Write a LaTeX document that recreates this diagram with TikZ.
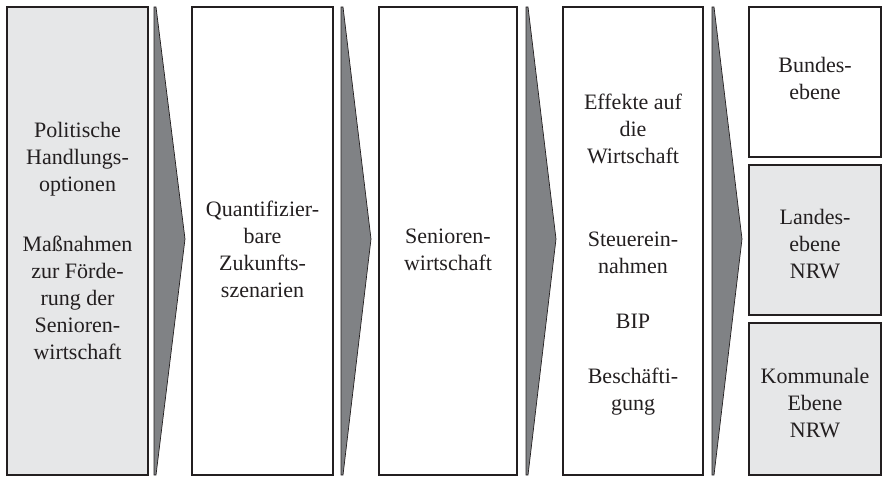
\documentclass[tikz,border=0pt]{standalone}
\usepackage{fontspec}
\setmainfont{Liberation Serif}
\definecolor{boxgray}{RGB}{230,231,232}
\definecolor{arrowgray}{RGB}{128,130,133}
\definecolor{linecol}{RGB}{35,31,32}
\tikzset{
  box/.style={draw=linecol, line width=1.8pt, inner sep=0pt},
  txt/.style={align=center, inner sep=0pt, font=\fontsize{22}{27}\selectfont, text=linecol},
  arr/.style={draw=linecol, line width=0.7pt, fill=arrowgray, line join=miter}
}
\begin{document}
\begin{tikzpicture}[x=1pt, y=-1pt]
\useasboundingbox (0,0) rectangle (882,476);

% boxes
\node[box, fill=boxgray, minimum width=141pt, minimum height=468pt] (politik) at (77.5,241) {};
\node[box, minimum width=141pt, minimum height=468pt] (szenarien) at (262.5,241) {};
\node[box, minimum width=138pt, minimum height=468pt] (senioren) at (448,241) {};
\node[box, minimum width=140pt, minimum height=468pt] (effekte) at (633,241) {};
\node[box, minimum width=132pt, minimum height=150pt] (bund) at (815,82) {};
\node[box, fill=boxgray, minimum width=132pt, minimum height=150pt] (land) at (815,240) {};
\node[box, fill=boxgray, minimum width=132pt, minimum height=152pt] (kommune) at (815,399) {};

% arrows
\foreach \a/\t in {154/185, 341/371, 526/556, 712/742}
{
    \draw[arr] (\a,7) -- (\a+2,7) -- (\t,239) -- (\a+2,475) -- (\a,475) -- cycle;
}

% texts
\node[txt] (politik-t) at (politik.center) {Politische\\Handlungs-\\optionen\\[33pt]Maßnahmen\\zur Förde-\\rung der\\Senioren-\\wirtschaft};
\node[txt] (szenarien-t) at (262.5,249.5) {Quantifizier-\\bare\\Zukunfts-\\szenarien};
\node[txt] (senioren-t) at (448,250) {Senioren-\\wirtschaft};
\node[txt] (effekte-t) at (633,254.5) {Effekte auf\\die\\Wirtschaft\\[56pt]Steuerein-\\nahmen\\[28pt]BIP\\[28pt]Beschäfti-\\gung};
\node[txt] (bund-t) at (815,78.5) {Bundes-\\ebene};
\node[txt] (land-t) at (815,244.5) {Landes-\\ebene\\NRW};
\node[txt] (kommune-t) at (815,403) {Kommunale\\Ebene\\NRW};

\end{tikzpicture}
\end{document}
